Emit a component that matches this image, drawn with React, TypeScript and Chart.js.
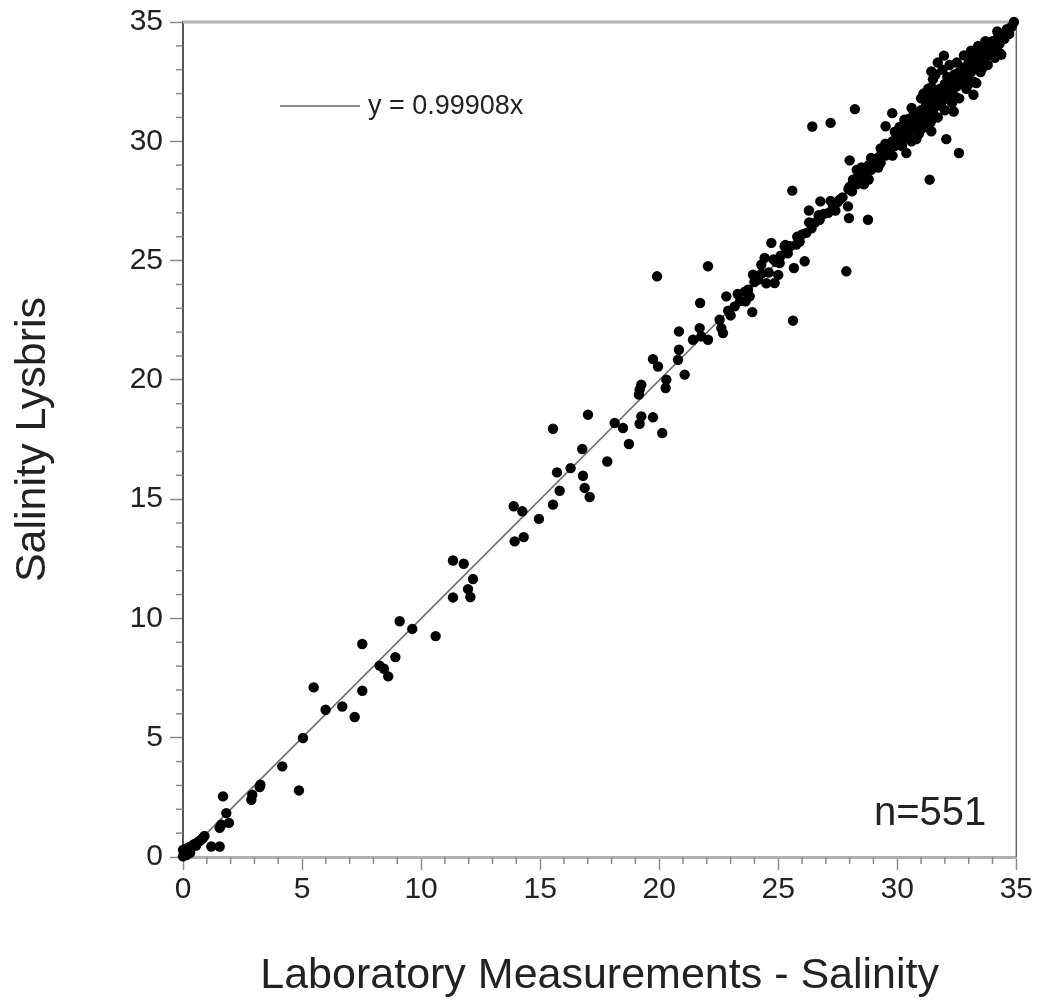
import React, { useEffect, useRef } from 'react';
import { Chart, registerables } from 'chart.js';

Chart.register(...registerables);

// ---- data ----
const xTitle = 'Laboratory Measurements - Salinity';
const yTitle = 'Salinity Lysbris';
const fitLabel = 'y = 0.99908x';
const countLabel = 'n=551';
const fitSlope = 0.99908;
const fitX = [0, 35];
const axisMin = 0;
const axisMax = 35;
const majorStep = 5;
const minorStep = 1;

// [laboratory, lysbris]
const lowRange: number[][] = [
  [0, 0.03], [0, 0.3], [0.05, 0.12], [0.12, 0.35], [0.2, 0.25], [0.28, 0.42], [0.35, 0.38],
  [0.42, 0.5], [0.49, 0.55], [0.55, 0.48], [0.62, 0.62], [0.7, 0.68], [0.78, 0.74],
  [0.84, 0.8], [0.9, 0.88], [0.3, 0.18], [0.15, 0.08],
  [1.19, 0.44], [1.54, 0.44], [1.54, 1.22], [1.61, 1.35], [1.68, 2.54], [1.82, 1.84],
  [1.93, 1.43], [2.87, 2.4], [2.91, 2.61], [3.22, 2.93], [3.25, 3.03], [4.17, 3.8],
  [4.87, 2.79], [5.04, 4.99], [5.49, 7.11], [5.99, 6.17],
];

const midRange: number[][] = [
  [6.69, 6.31], [7.21, 5.87], [7.53, 6.97], [7.53, 8.93], [8.26, 8.02], [8.44, 7.89],
  [8.62, 7.57], [8.92, 8.38], [9.1, 9.88], [9.63, 9.56], [10.61, 9.26], [11.34, 12.43],
  [11.79, 12.29], [12.18, 11.65], [11.97, 11.23], [12.07, 10.9], [11.34, 10.88],
  [13.89, 14.7], [14.25, 14.49], [14.95, 14.17], [13.93, 13.23], [14.31, 13.41],
  [15.54, 14.77], [15.54, 17.95], [15.71, 16.12], [15.82, 15.35], [16.28, 16.3],
  [16.77, 17.1], [16.8, 15.98], [16.87, 15.47], [17.08, 15.09], [17.01, 18.54],
  [17.82, 16.58], [18.13, 18.19], [18.48, 17.98], [18.73, 17.31], [19.15, 19.38],
  [19.18, 19.59], [19.25, 19.8], [19.18, 18.16], [19.25, 18.47], [19.74, 18.43],
];

const highRange: number[][] = [
  [20.13, 17.77], [19.74, 20.87], [19.95, 20.56], [20.3, 20.01], [20.27, 19.66], [19.91, 24.34],
  [20.79, 20.84], [20.83, 21.26], [20.83, 22.03], [21.07, 20.22], [21.42, 21.68], [21.7, 22.17],
  [21.77, 21.82], [22.05, 21.68], [21.72, 23.22], [22.05, 24.76], [22.54, 22.52], [22.61, 22.17],
  [22.68, 21.96], [22.82, 23.5], [23.17, 23.08], [23.63, 23.29], [23.73, 23.78], [23.8, 23.5],
  [23.91, 22.84], [23.94, 24.41], [24.15, 24.2], [24.29, 24.83], [24.43, 25.11], [24.71, 25.74],
  [24.85, 24.06], [25.0, 24.4], [25.06, 24.9], [25.27, 25.6], [25.62, 22.48], [25.66, 24.69],
  [25.76, 25.67], [26.11, 24.97], [26.18, 26.16], [25.59, 27.93], [26.29, 27.1], [26.74, 26.71],
  [26.77, 27.48], [27.3, 27.24], [27.58, 27.55], [27.93, 27.27], [27.86, 24.55], [27.97, 26.78],
  [28.77, 26.71], [26.43, 30.62], [27.2, 30.77], [28.0, 29.2], [28.22, 31.35],
  [22.9, 22.9], [23.4, 23.3], [23.6, 23.7], [24.0, 24.1], [24.6, 24.5], [24.9, 24.95],
  [25.1, 25.2], [25.4, 25.3], [25.5, 25.6], [25.9, 25.8], [26.0, 26.1], [26.4, 26.35],
  [26.55, 26.6], [26.9, 26.95], [27.1, 27.0], [27.5, 27.45], [27.7, 27.65], [27.95, 28.0],
  [24.3, 24.45], [24.5, 24.05], [24.8, 25.05], [25.3, 25.65], [25.8, 26.0], [26.3, 26.6],
  [26.7, 26.9], [27.2, 27.5], [27.4, 27.1], [23.3, 23.6], [23.0, 22.7],
];

const topRange: number[][] = [
  [29.51, 30.63], [29.79, 31.18], [31.36, 28.39], [32.59, 29.51], [32.06, 30.09], [31.43, 30.42],
  [30.8, 30.09], [30.38, 29.51], [32.37, 31.25], [31.43, 32.93], [31.43, 32.27], [31.96, 33.59],
  [31.7, 33.3], [34.37, 33.63], [33.32, 32.44], [33.2, 31.95],
  [28.0, 28.1], [28.1, 27.9], [28.2, 28.4], [28.3, 28.2], [28.4, 28.6], [28.5, 28.3], [28.6, 28.8],
  [28.7, 28.6], [28.8, 29.0], [28.9, 28.8], [29.0, 29.2], [29.1, 29.0], [29.2, 29.3], [29.3, 29.1],
  [29.4, 29.6], [29.5, 29.4], [29.6, 29.7], [29.7, 29.5], [29.8, 30.0], [29.9, 29.8], [30.0, 30.3],
  [30.1, 29.9], [30.2, 30.5], [30.3, 30.1], [30.4, 30.7], [30.5, 30.4], [30.6, 30.9], [30.7, 30.5],
  [30.8, 31.1], [30.9, 30.7], [31.0, 31.3], [31.1, 30.9], [31.2, 31.6], [31.3, 31.0], [31.4, 31.8],
  [31.5, 31.3], [31.6, 32.0], [31.7, 31.5], [31.8, 32.2], [31.9, 31.7], [32.0, 32.4], [32.1, 31.9],
  [32.2, 32.6], [32.3, 32.1], [32.4, 32.8], [32.5, 32.3], [32.6, 32.9], [32.7, 32.5], [32.8, 33.1],
  [32.9, 32.7], [33.0, 33.3], [33.1, 32.9], [33.2, 33.5], [33.3, 33.1], [33.4, 33.7], [33.5, 33.3],
  [33.6, 33.9], [33.7, 33.5], [33.8, 34.0], [33.9, 33.7], [34.0, 34.2], [34.1, 33.9], [34.2, 34.3],
  [34.3, 34.1], [34.4, 34.5], [34.5, 34.3], [34.6, 34.7], [34.7, 34.5], [34.8, 34.8], [34.9, 35.0],
  [30.05, 30.0], [30.25, 30.2], [30.45, 30.3], [30.65, 30.6], [30.85, 30.8], [31.05, 31.0],
  [31.25, 31.2], [31.45, 31.4], [31.65, 31.6], [31.85, 31.8], [32.05, 32.0], [32.25, 32.2],
  [32.45, 32.4], [32.65, 32.6], [32.85, 32.8], [33.05, 33.0], [33.25, 33.2], [33.45, 33.4],
  [33.65, 33.6], [33.85, 33.8], [34.05, 34.0], [34.25, 34.2], [34.45, 34.4], [34.65, 34.6],
  [30.3, 30.9], [30.6, 31.4], [31.0, 31.8], [31.1, 32.0], [31.3, 32.2], [31.5, 32.6], [31.6, 32.8],
  [31.9, 33.0], [32.2, 33.2], [32.5, 33.3], [32.8, 33.6], [33.1, 33.8], [33.4, 34.0], [31.7, 31.0],
  [32.0, 31.3], [32.3, 31.6], [32.6, 31.8], [32.9, 32.2], [33.2, 32.5], [33.5, 32.9], [33.8, 33.2],
  [34.1, 33.5], [34.3, 33.7], [30.6, 30.0], [30.9, 30.3], [31.2, 30.6], [31.4, 30.8],
  [28.14, 28.39], [28.4, 28.55], [28.7, 28.85], [29.26, 29.37], [29.5, 29.6], [29.8, 29.8],
  [28.3, 28.8], [28.6, 28.2], [28.9, 29.3], [29.2, 28.9], [29.5, 29.9], [29.8, 29.4],
  [29.9, 30.4], [30.2, 29.8], [30.5, 30.95], [30.1, 30.6], [29.3, 29.7], [28.5, 28.9],
  [28.8, 28.4], [30.7, 31.2], [31.0, 30.5], [31.2, 31.9], [32.1, 32.7], [32.4, 31.9],
  [33.0, 32.4], [33.6, 33.1], [34.0, 33.7], [34.2, 34.6], [33.7, 34.2], [33.0, 33.6],
];

const FONT = "'Liberation Sans', Arial, Helvetica, sans-serif";

const decorPlugin = {
  id: 'decor',
  beforeDatasetsDraw(chart: any) {
    const { ctx, chartArea: ca } = chart;
    ctx.save();
    // top frame line
    ctx.strokeStyle = '#b4b4b4';
    ctx.lineWidth = 3;
    ctx.beginPath();
    ctx.moveTo(ca.left, ca.top);
    ctx.lineTo(ca.right, ca.top);
    ctx.stroke();
    // right frame line
    ctx.strokeStyle = '#666';
    ctx.lineWidth = 1.5;
    ctx.beginPath();
    ctx.moveTo(ca.right, ca.top);
    ctx.lineTo(ca.right, ca.bottom);
    ctx.stroke();
    // minor ticks
    const xs = chart.scales.x;
    const ys = chart.scales.y;
    ctx.strokeStyle = '#8a8a8a';
    ctx.lineWidth = 1.5;
    for (let v = axisMin; v <= axisMax; v += minorStep) {
      if (v % majorStep === 0) continue;
      const px = xs.getPixelForValue(v);
      ctx.beginPath();
      ctx.moveTo(px, ca.bottom);
      ctx.lineTo(px, ca.bottom + 7);
      ctx.stroke();
      const py = ys.getPixelForValue(v);
      ctx.beginPath();
      ctx.moveTo(ca.left - 7, py);
      ctx.lineTo(ca.left, py);
      ctx.stroke();
    }
    ctx.restore();
  },
  afterDraw(chart: any) {
    const { ctx, chartArea: ca } = chart;
    ctx.save();
    // legend
    const ly = ca.top + 84;
    ctx.strokeStyle = '#666';
    ctx.lineWidth = 1.5;
    ctx.beginPath();
    ctx.moveTo(ca.left + 97, ly);
    ctx.lineTo(ca.left + 177, ly);
    ctx.stroke();
    ctx.fillStyle = '#222';
    ctx.font = `27px ${FONT}`;
    ctx.textAlign = 'left';
    ctx.textBaseline = 'middle';
    ctx.fillText(fitLabel, ca.left + 185, ly + 1);
    // sample count
    ctx.font = `40px ${FONT}`;
    ctx.textAlign = 'right';
    ctx.textBaseline = 'alphabetic';
    ctx.fillText(countLabel, ca.right - 30, ca.bottom - 32);
    ctx.restore();
  },
};

export default function App() {
  const ref = useRef<HTMLCanvasElement | null>(null);

  useEffect(() => {
    document.body.style.margin = '0';
    const canvas = ref.current;
    if (!canvas) return;
    const points = [...lowRange, ...midRange, ...highRange, ...topRange].map(([x, y]) => ({ x, y }));
    const fitPoints = fitX.map((x) => ({ x, y: x * fitSlope }));

    const chart = new Chart(canvas, {
      type: 'scatter',
      data: {
        datasets: [
          {
            label: 'data',
            data: points,
            backgroundColor: '#000',
            borderColor: '#000',
            pointRadius: 5.2,
            pointBorderWidth: 0,
            clip: false,
            order: 1,
          } as any,
          {
            type: 'line',
            label: fitLabel,
            data: fitPoints,
            borderColor: '#6e6e6e',
            borderWidth: 1.6,
            pointRadius: 0,
            showLine: true,
            fill: false,
            order: 2,
          } as any,
        ],
      },
      options: {
        responsive: false,
        animation: false,
        layout: { padding: { top: 22, right: 21, left: 0, bottom: 0 } },
        plugins: {
          legend: { display: false },
          tooltip: { enabled: false },
        },
        scales: {
          x: {
            type: 'linear',
            min: axisMin,
            max: axisMax,
            afterFit: (s: any) => {
              s.height = 148;
            },
            ticks: {
              stepSize: majorStep,
              color: '#222',
              font: { family: FONT, size: 30, lineHeight: 1 },
              padding: 5,
              maxRotation: 0,
            },
            grid: {
              drawOnChartArea: false,
              drawTicks: true,
              tickLength: 13,
              tickColor: '#8a8a8a',
              tickWidth: 1.5,
            },
            border: { color: '#b0b0b0', width: 3 },
            title: {
              display: true,
              text: xTitle,
              color: '#222',
              font: { family: FONT, size: 43 },
              padding: { top: 0, bottom: 3 },
            },
          },
          y: {
            type: 'linear',
            min: axisMin,
            max: axisMax,
            afterFit: (s: any) => {
              s.width = 183;
            },
            ticks: {
              stepSize: majorStep,
              color: '#222',
              font: { family: FONT, size: 30, lineHeight: 1 },
              padding: 7,
            },
            grid: {
              drawOnChartArea: false,
              drawTicks: true,
              tickLength: 13,
              tickColor: '#8a8a8a',
              tickWidth: 1.5,
            },
            border: { color: '#555', width: 2 },
            title: {
              display: true,
              text: yTitle,
              color: '#222',
              font: { family: FONT, size: 43 },
              padding: { top: 7, bottom: 0 },
            },
          },
        },
      },
      plugins: [decorPlugin],
    });

    return () => {
      chart.destroy();
    };
  }, []);

  return (
    <div style={{ width: 1038, height: 1005, background: '#fff' }}>
      <canvas ref={ref} width={1038} height={1005} style={{ width: 1038, height: 1005, display: 'block' }} />
    </div>
  );
}
